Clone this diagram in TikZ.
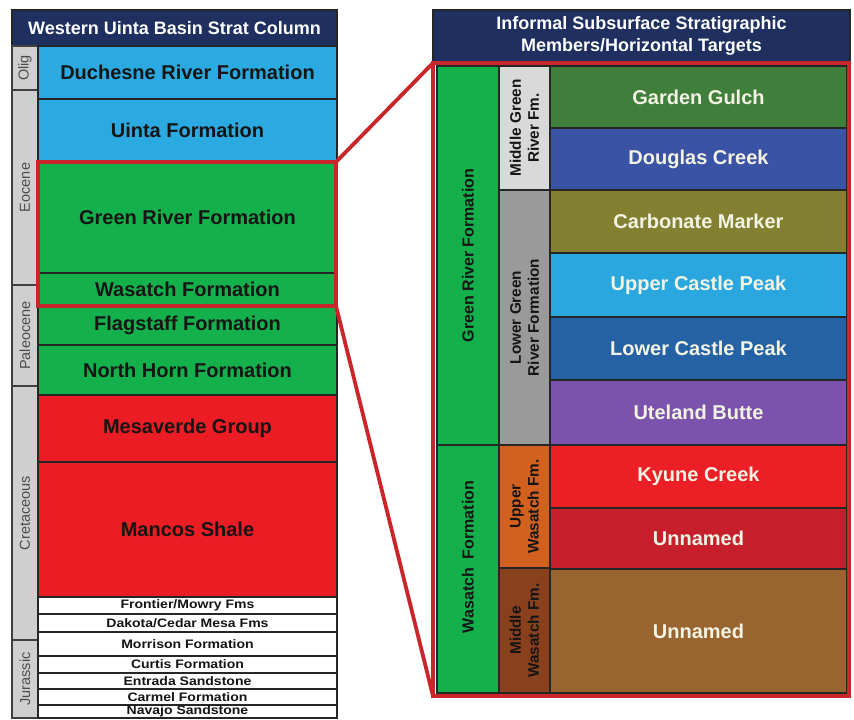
\documentclass[tikz,border=0pt]{standalone}
\usepackage{fontspec}
\usepackage{graphicx}
\setmainfont{Liberation Sans}
\usetikzlibrary{fit}
\definecolor{navy}{HTML}{1F3060}
\definecolor{lblue}{HTML}{2BA9E1}
\definecolor{fgreen}{HTML}{14B04C}
\definecolor{fred}{HTML}{EC1C24}
\definecolor{agegray}{HTML}{CFCFCF}
\definecolor{hired}{HTML}{C8262B}
\definecolor{gardeng}{HTML}{3F7F3B}
\definecolor{douglas}{HTML}{3A53A4}
\definecolor{carbon}{HTML}{838131}
\definecolor{ucastle}{HTML}{2AA7DF}
\definecolor{lcastle}{HTML}{2562A5}
\definecolor{uteland}{HTML}{7C53AC}
\definecolor{kyune}{HTML}{EC1F26}
\definecolor{unnamedr}{HTML}{C61F2B}
\definecolor{unnamedb}{HTML}{98642F}
\definecolor{midgr}{HTML}{D9D9D9}
\definecolor{lowgr}{HTML}{9A9A9A}
\definecolor{upwas}{HTML}{D2601F}
\definecolor{midwas}{HTML}{89401C}
\definecolor{lighttxt}{HTML}{F3F3E4}
\definecolor{darktxt}{HTML}{151515}
% band: name, x1, y1, x2, y2, box style, text style, text
\newcommand\band[8]{\node[#6, fit={(#2,#3) (#4,#5)}] (#1) {};
  \node[#7] at (#1.center) {#8};}
\newcommand\widen[1]{\scalebox{1.14}[1]{#1}}
\begin{document}
\begin{tikzpicture}[x=1pt,y=-1pt,
  box/.style={draw=black!85, line width=1.3pt, inner sep=0pt, outer sep=0pt},
  hbox/.style={box, fill=navy},
  age/.style={box, fill=agegray, draw=black!75},
  txt/.style={inner sep=0pt, align=center, text=darktxt, font=\bfseries\fontsize{20}{22}\selectfont},
  smalltxt/.style={txt, font=\bfseries\fontsize{12.3}{13}\selectfont},
  hdrtxt/.style={txt, text=white, font=\bfseries\fontsize{18}{22}\selectfont},
  tgttxt/.style={txt, text=lighttxt},
  agetxt/.style={rotate=90, text=black!70, inner sep=0pt, font=\fontsize{14.5}{15}\selectfont},
  vtxt/.style={rotate=90, align=center, inner sep=0pt, text=darktxt, font=\bfseries\fontsize{16}{17}\selectfont},
  vtxtb/.style={vtxt, font=\bfseries\fontsize{15.3}{18}\selectfont},
  hl/.style={draw=hired, line width=3.8pt, inner sep=0pt, outer sep=0pt},
  link/.style={draw=hired, line width=3.8pt, line cap=round}]
\useasboundingbox (0,0) rectangle (854,720);
% ---------------- left column ----------------
\band{lhead}{12}{10}{337}{46}{hbox}{hdrtxt}{Western Uinta Basin Strat Column}
\band{olig}{12}{46}{38}{90}{age}{agetxt}{Olig}
\band{eocene}{12}{90}{38}{285}{age}{agetxt}{Eocene}
\band{paleo}{12}{285}{38}{386}{age}{agetxt}{Paleocene}
\band{creta}{12}{386}{38}{640}{age}{agetxt}{Cretaceous}
\band{jura}{12}{640}{38}{718}{age}{agetxt}{Jurassic}
\band{duch}{38}{46}{337}{99}{box,fill=lblue}{txt}{Duchesne River Formation}
\band{uinta}{38}{99}{337}{162}{box,fill=lblue}{txt}{Uinta Formation}
\band{grf}{38}{162}{337}{273}{box,fill=fgreen}{txt}{Green River Formation}
\band{was}{38}{273}{337}{306}{box,fill=fgreen}{txt}{Wasatch Formation}
\band{flag}{38}{306}{337}{345}{box,fill=fgreen}{txt}{Flagstaff Formation}
\band{nhorn}{38}{345}{337}{395}{box,fill=fgreen}{txt}{North Horn Formation}
\band{mesa}{38}{395}{337}{462}{box,fill=fred}{txt}{Mesaverde Group}
\band{mancos}{38}{462}{337}{597}{box,fill=fred}{txt}{Mancos Shale}
\band{front}{38}{597}{337}{614}{box,fill=white}{smalltxt}{\widen{Frontier/Mowry Fms}}
\band{dakota}{38}{614}{337}{632}{box,fill=white}{smalltxt}{\widen{Dakota/Cedar Mesa Fms}}
\band{morr}{38}{632}{337}{656}{box,fill=white}{smalltxt}{\widen{Morrison Formation}}
\band{curtis}{38}{656}{337}{673}{box,fill=white}{smalltxt}{\widen{Curtis Formation}}
\band{entrada}{38}{673}{337}{689}{box,fill=white}{smalltxt}{\widen{Entrada Sandstone}}
\band{carmel}{38}{689}{337}{705}{box,fill=white}{smalltxt}{\widen{Carmel Formation}}
\band{navajo}{38}{705}{337}{718}{box,fill=white}{smalltxt}{\widen{Navajo Sandstone}}
\node[hl, fit={(38,162) (336,306)}] (lhl) {};
% ---------------- right column ----------------
\band{rhead}{433}{10}{850}{62}{hbox}{hdrtxt}{Informal Subsurface Stratigraphic\\Members/Horizontal Targets}
\band{rgr}{437}{66}{499}{445}{box,fill=fgreen}{vtxt}{Green River Formation}
\node[box, fill=fgreen, fit={(437,445) (499,693)}] (rwas) {};
\node[vtxt] at ([yshift=12pt]rwas.center) {Wasatch\ \ Formation};
\band{rmgr}{499}{66}{550}{190}{box,fill=midgr}{vtxtb}{Middle Green\\River Fm.}
\band{rlgr}{499}{190}{550}{445}{box,fill=lowgr}{vtxtb}{Lower Green\\River Formation}
\band{ruw}{499}{445}{550}{568}{box,fill=upwas}{vtxtb}{Upper\\Wasatch Fm.}
\band{rmw}{499}{568}{550}{693}{box,fill=midwas}{vtxtb}{Middle\\Wasatch Fm.}
\band{garden}{550}{66}{847}{128}{box,fill=gardeng}{tgttxt}{Garden Gulch}
\band{douglas}{550}{128}{847}{190}{box,fill=douglas}{tgttxt}{Douglas Creek}
\band{carbm}{550}{190}{847}{253}{box,fill=carbon}{tgttxt}{Carbonate Marker}
\band{ucp}{550}{253}{847}{317}{box,fill=ucastle}{tgttxt}{Upper Castle Peak}
\band{lcp}{550}{317}{847}{380}{box,fill=lcastle}{tgttxt}{Lower Castle Peak}
\band{ute}{550}{380}{847}{445}{box,fill=uteland}{tgttxt}{Uteland Butte}
\band{kyune}{550}{445}{847}{508}{box,fill=kyune}{tgttxt}{Kyune Creek}
\band{unn1}{550}{508}{847}{569}{box,fill=unnamedr}{tgttxt}{Unnamed}
\band{unn2}{550}{569}{847}{693}{box,fill=unnamedb}{tgttxt}{Unnamed}
\node[hl, fit={(433,63) (849,696)}] (rhl) {};
% ---------------- connectors ----------------
\draw[link] (lhl.north east) -- (rhl.north west);
\draw[link] (lhl.south east) -- (rhl.south west);
\end{tikzpicture}
\end{document}
